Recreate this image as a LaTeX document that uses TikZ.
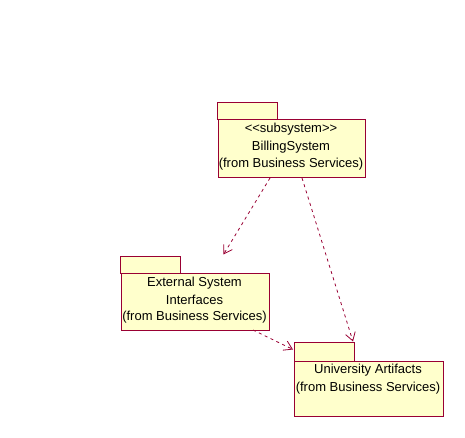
\documentclass[tikz,border=0pt]{standalone}
\usepackage{fontspec}
\setmainfont{Liberation Sans}
\usetikzlibrary{arrows.meta}
\definecolor{umlred}{HTML}{990033}
\definecolor{umlfill}{HTML}{FFFFCC}
\tikzset{
  pkgbody/.style={draw=umlred, fill=umlfill, line width=1pt, rectangle, inner sep=0pt, anchor=north west},
  pkgtab/.style={draw=umlred, fill=umlfill, line width=1pt, rectangle, inner sep=0pt, anchor=north west},
  lbl/.style={font=\fontsize{13}{17}\selectfont, inner sep=0pt, anchor=center, align=center},
  dep/.style={draw=umlred, line width=0.8pt, dash pattern=on 3pt off 3.5pt, -{Straight Barb[length=8pt,width=10pt,line width=0.8pt]}},
}
\begin{document}
\begin{tikzpicture}[x=1pt,y=-1pt]
\useasboundingbox (0,0) rectangle (465,438);
% Billing System
\node[pkgtab, minimum width=60pt, minimum height=17pt] (billtab) at (216.5,102.5) {};
\node[pkgbody, minimum width=147.5pt, minimum height=58pt] (bill) at (217.5,119) {};
\node[lbl] (billt1) at (291,129.5) {<{}<subsystem>{}>};
\node[lbl] (billt2) at (291,147) {BillingSystem};
\node[lbl] (billt3) at (291,164) {(from Business Services)};
% External System Interfaces
\node[pkgtab, minimum width=60pt, minimum height=17.5pt] (exttab) at (119.5,255.5) {};
\node[pkgbody, minimum width=148pt, minimum height=56.5pt] (ext) at (120.5,273) {};
\node[lbl] (extt1) at (194.5,283) {External System};
\node[lbl] (extt2) at (194.5,299.5) {Interfaces};
\node[lbl] (extt3) at (194.5,317.5) {(from Business Services)};
% University Artifacts
\node[pkgtab, minimum width=60pt, minimum height=18.5pt] (unitab) at (293.5,342) {};
\node[pkgbody, minimum width=149pt, minimum height=55.5pt] (uni) at (293.5,360.5) {};
\node[lbl] (unit1) at (368,370) {University Artifacts};
\node[lbl] (unit2) at (368,388.5) {(from Business Services)};
% dependency end points
\coordinate (b1) at (270,178);
\coordinate (e1) at (223.5,254.5);
\coordinate (b2) at (302,178);
\coordinate (u1) at (353,341.5);
\coordinate (x1) at (253,330);
\coordinate (u2) at (293,349.5);
\draw[dep] (b1) -- (e1);
\draw[dep] (b2) -- (u1);
\draw[dep] (x1) -- (u2);
\end{tikzpicture}
\end{document}
